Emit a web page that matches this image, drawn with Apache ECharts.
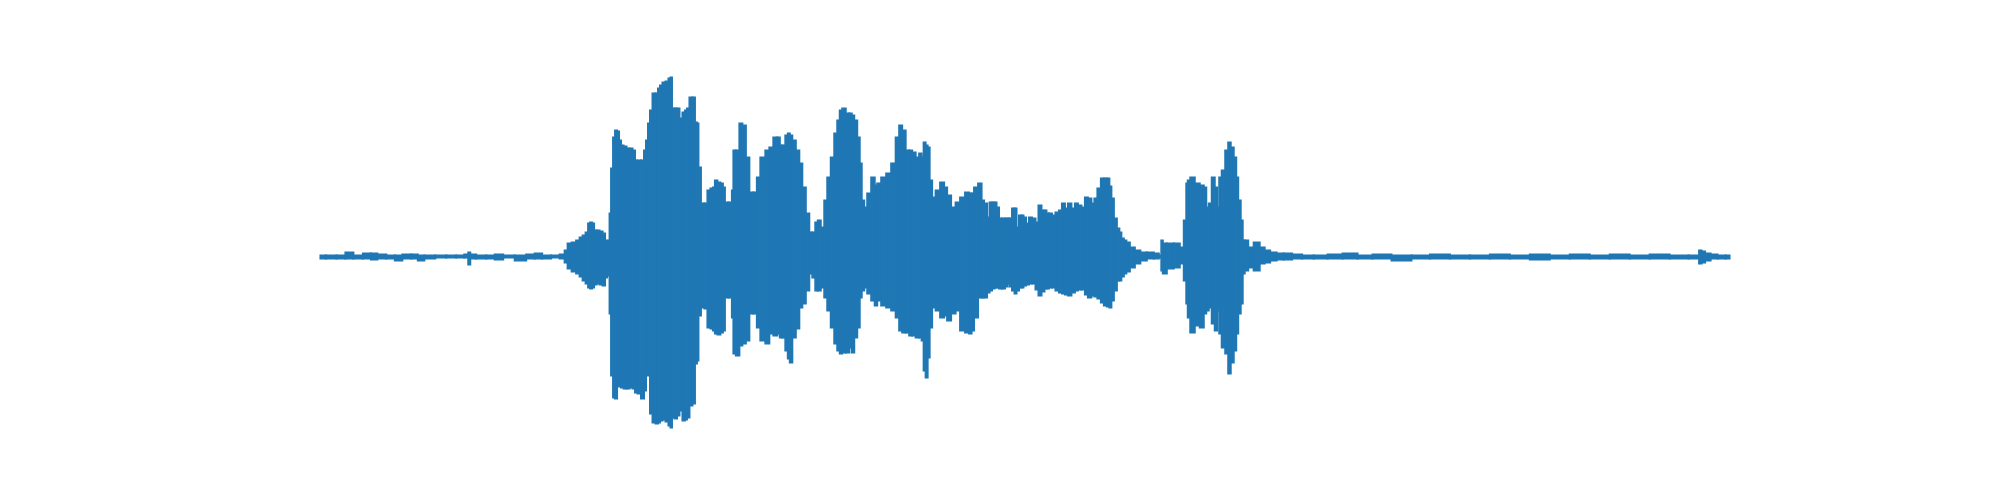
<!DOCTYPE html>
<html>
<head>
<meta charset="utf-8">
<script src="https://cdn.jsdelivr.net/npm/echarts@6/dist/echarts.min.js"></script>
<style>html,body{margin:0;padding:0;background:#fff;}#c{width:2000px;height:500px;}</style>
</head>
<body>
<div id="c"></div>
<script>
// Sample positions (arbitrary time units) and the waveform's upper / lower envelope (amplitude units)
const t = [0,11,21,29,37,48,53,61,71,78,86,96,99,109,121,131,141,147,149,151,161,171,178,188,201,211,218,226,236,243,
246,249,254,258,261,264,267,269,271,273,275,278,281,284,286,288,289,290,292,294,296,298,300,302,305,308,311,314,316,319,323,325,327,329,
331,334,337,339,341,344,347,350,351,353,356,358,361,364,366,368,371,374,376,378,379,383,386,389,392,394,396,399,402,404,406,411,413,414,418,
421,424,428,431,436,438,443,448,451,456,459,461,464,467,469,471,474,478,481,484,488,491,494,497,499,503,506,509,513,516,519,521,524,528,531,
533,536,539,541,543,546,549,554,556,559,564,569,574,578,581,584,588,591,594,598,601,603,605,607,609,611,614,618,623,626,629,634,638,643,648,
651,653,656,
661,663,666,669,671,674,676,678,681,684,687,689,691,694,696,698,701,703,705,708,711,714,718,720,724,726,728,731,734,738,
741,744,747,750,754,757,760,764,767,770,774,776,780,783,786,789,791,793,796,799,801,803,806,808,
813,818,824,831,838,841,843,844,851,858,863,866,868,869,873,878,883,886,888,891,894,897,899,901,904,908,910,913,916,918,920,923,924,927,
931,938,943,948,954,961,968,978,988,1001,1016,1031,1046,1061,1084,1101,1121,1141,1161,1181,1201,1221,1241,1261,1281,1301,1321,1341,1361,1379,
1382,1384,1389,1395,1403,1411];
const upper = [1,1,1,4,1,3,3,2,1,1,2,2,1,1,1,1,1,2,4,2,1,1,2,1,1,2,3,1,1,2,
6,13,14,16,19,21,24,33,34,33,26,26,25,23,16,13,16,43,88,119,126,125,116,111,110,108,108,106,96,96,96,106,116,133,
146,163,163,168,171,174,175,178,179,148,148,148,138,144,146,148,159,159,134,133,89,53,53,66,68,69,76,74,73,69,54,54,66,106,106,
133,131,99,64,64,79,99,106,109,119,119,111,111,121,123,121,116,106,93,69,43,24,24,34,36,29,56,79,99,123,136,146,148,143,143,
141,136,119,93,56,49,63,79,71,73,79,83,93,119,131,126,106,106,104,99,103,99,114,111,109,76,59,66,74,69,61,49,54,59,64,
63,63,69,
73,56,53,39,54,54,54,49,38,38,38,38,38,48,48,29,41,41,39,33,39,38,34,51,46,46,43,43,41,44,
46,53,48,53,48,53,51,49,59,58,53,58,68,78,78,78,70,58,38,28,24,18,16,14,
9,6,4,4,3,1,16,13,13,13,9,36,73,76,79,73,71,69,49,53,79,69,49,79,86,106,114,109,99,79,56,36,16,16,
9,14,9,6,4,3,3,2,1,1,2,3,1,2,1,1,2,1,1,2,1,2,1,2,1,2,1,2,1,1,
6,5,3,2,1,1];
const lower = [-2,-2,-2,-2,-2,-2,-3,-2,-2,-4,-2,-2,-4,-2,-1,-1,-1,-1,-8,-2,-2,-2,-3,-1,-4,-2,-2,-2,-1,-2,
-6,-12,-15,-17,-20,-24,-27,-31,-32,-31,-28,-27,-28,-29,-21,-12,-19,-57,-119,-141,-142,-129,-130,-131,-132,-132,-131,-132,-136,-137,-142,-134,-117,-119,
-157,-166,-167,-166,-164,-163,-165,-169,-171,-161,-162,-159,-154,-164,-163,-161,-149,-147,-107,-104,-59,-51,-52,-71,-72,-74,-77,-78,-76,-74,-41,-41,-61,-97,-99,
-89,-87,-84,-57,-57,-71,-84,-87,-77,-79,-77,-81,-81,-94,-102,-106,-81,-72,-51,-47,-34,-17,-21,-34,-34,-31,-41,-54,-71,-87,-94,-97,-96,-96,-91,
-96,-81,-71,-41,-34,-31,-37,-44,-49,-44,-49,-51,-54,-61,-74,-76,-76,-79,-79,-81,-81,-84,-114,-121,-101,-71,-51,-54,-61,-59,-64,-57,-54,-74,-76,
-77,-74,-61,
-41,-41,-41,-36,-34,-32,-31,-31,-32,-32,-30,-27,-30,-34,-37,-34,-31,-31,-29,-28,-27,-27,-33,-39,-35,-32,-32,-31,-31,-34,
-36,-37,-38,-39,-36,-34,-33,-33,-38,-41,-39,-40,-42,-46,-49,-50,-51,-44,-34,-24,-24,-20,-17,-15,
-11,-7,-4,-2,-2,-1,-14,-17,-12,-11,-7,-24,-47,-61,-76,-69,-71,-57,-54,-51,-67,-74,-54,-77,-91,-97,-117,-106,-94,-77,-57,-47,-17,-14,
-11,-14,-7,-6,-4,-3,-3,-2,-2,-2,-2,-2,-2,-2,-4,-2,-2,-2,-2,-2,-2,-3,-2,-2,-2,-2,-2,-2,-2,-2,
-7,-6,-4,-2,-2,-2];

const span = t[t.length - 1] - t[0];
const yMax = Math.max(...upper), yMin = Math.min(...lower);
const yPad = (yMax - yMin) * 0.05;
const color = '#1f77b4';
const rows = t.map((x, i) => [x, upper[i], lower[i]]);

function renderItem(params, api) {
  const i = params.dataIndex;
  const x = api.value(0);
  const xa = i > 0 ? (t[i - 1] + x) / 2 : x;
  const xb = i < t.length - 1 ? (x + t[i + 1]) / 2 : x;
  const p0 = api.coord([xa, api.value(1)]);
  const p1 = api.coord([xb, api.value(2)]);
  return {
    type: 'rect',
    shape: {x: p0[0], y: p0[1], width: p1[0] - p0[0], height: p1[1] - p0[1]},
    style: {fill: color, stroke: color, lineWidth: 2}
  };
}

const chart = echarts.init(document.getElementById('c'), null, {renderer: 'canvas'});
chart.setOption({
  animation: false,
  backgroundColor: '#ffffff',
  grid: {left: 250, right: 200, top: 60, bottom: 55, containLabel: false},
  xAxis: {type: 'value', min: t[0] - span * 0.05, max: t[t.length - 1] + span * 0.05, show: false},
  yAxis: {type: 'value', min: yMin - yPad, max: yMax + yPad, show: false},
  series: [{
    type: 'custom', data: rows, renderItem: renderItem, clip: false,
    encode: {x: 0, y: [1, 2]}, itemStyle: {color: color}
  }]
});
</script>
</body>
</html>
